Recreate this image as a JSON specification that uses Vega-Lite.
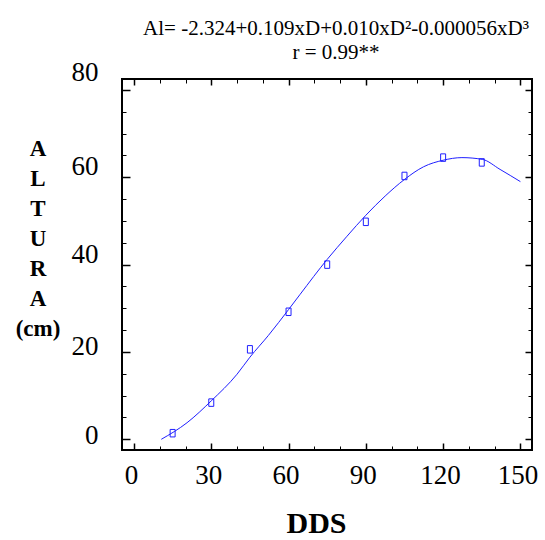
{
  "$schema": "https://vega.github.io/schema/vega-lite/v6.json",
  "width": 410,
  "height": 371,
  "autosize": {"type": "none"},
  "padding": {"left": 122, "top": 79, "right": 13, "bottom": 90},
  "background": "white",
  "title": {
    "text": ["Al= -2.324+0.109xD+0.010xD²-0.000056xD³", "r = 0.99**"],
    "font": "Liberation Serif",
    "fontSize": 21,
    "fontWeight": "normal",
    "color": "black",
    "lineHeight": 24,
    "anchor": "middle",
    "dx": 9,
    "offset": -4
  },
  "datasets": {
    "obs": [
      {"dds": 15, "altura": 1.4},
      {"dds": 30, "altura": 8.4},
      {"dds": 45, "altura": 20.6},
      {"dds": 60, "altura": 29.2},
      {"dds": 75, "altura": 40.0},
      {"dds": 90, "altura": 49.8},
      {"dds": 105, "altura": 60.3},
      {"dds": 120, "altura": 64.5},
      {"dds": 135, "altura": 63.4}
    ],
    "fit": [
      {"dds": 10.6, "altura": 0.0},
      {"dds": 20.6, "altura": 3.8},
      {"dds": 30, "altura": 8.8},
      {"dds": 40, "altura": 14.9},
      {"dds": 45, "altura": 18.8},
      {"dds": 52.2, "altura": 23.8},
      {"dds": 60, "altura": 29.7},
      {"dds": 64.5, "altura": 33.2},
      {"dds": 75, "altura": 41.2},
      {"dds": 82.7, "altura": 46.5},
      {"dds": 90, "altura": 51.3},
      {"dds": 97.5, "altura": 55.7},
      {"dds": 105, "altura": 59.5},
      {"dds": 112.4, "altura": 62.4},
      {"dds": 120, "altura": 63.9},
      {"dds": 127.3, "altura": 64.5},
      {"dds": 135.2, "altura": 64.1},
      {"dds": 142.1, "altura": 61.8},
      {"dds": 150, "altura": 59.0}
    ]
  },
  "layer": [
    {
      "data": {"name": "fit"},
      "mark": {"type": "line", "color": "#1f1fff", "strokeWidth": 1, "interpolate": "monotone"},
      "encoding": {
        "x": {
          "field": "dds", "type": "quantitative",
          "scale": {"domain": [-4.65, 154.5], "nice": false, "zero": false},
          "axis": {
            "orient": "bottom",
            "values": [0, 30, 60, 90, 120, 150],
            "ticks": false, "domain": false, "grid": false,
            "labelFont": "Liberation Serif", "labelFontSize": 27, "labelColor": "black",
            "labelPadding": 12, "labelBaseline": "top", "labelOffset": -3,
            "labelFlush": false, "labelOverlap": false,
            "title": "DDS",
            "titleFont": "Liberation Serif", "titleFontSize": 30, "titleFontWeight": "bold", "titleColor": "black",
            "titleX": 194, "titleY": 82, "titleBaseline": "alphabetic", "titleAlign": "center"
          }
        },
        "y": {
          "field": "altura", "type": "quantitative",
          "scale": {"domain": [-2.45, 82.5], "nice": false, "zero": false},
          "axis": {
            "orient": "left",
            "values": [0, 20, 40, 60, 80],
            "ticks": false, "domain": false, "grid": false,
            "labelFont": "Liberation Serif", "labelFontSize": 27, "labelColor": "black",
            "labelPadding": 24, "labelBaseline": "middle", "labelAlign": "right",
            "labelFlush": false, "labelOverlap": false,
            "labelOffset": {
              "condition": [
                {"test": "datum.value === 80", "value": -17},
                {"test": "datum.value === 60", "value": -11},
                {"test": "datum.value === 40", "value": -10},
                {"test": "datum.value === 20", "value": -5}
              ],
              "value": -4
            },
            "title": ["A", "L", "T", "U", "R", "A", "(cm)"],
            "titleFont": "Liberation Serif", "titleFontSize": 23, "titleFontWeight": "bold", "titleColor": "black",
            "titleAngle": 0, "titleAlign": "center", "titleBaseline": "alphabetic",
            "titleX": -84.5, "titleY": 76, "titleLineHeight": 30
          }
        }
      }
    },
    {
      "data": {"name": "obs"},
      "mark": {"type": "point", "shape": "M-0.667,-1H0.667V1H-0.667Z", "size": 56, "filled": false, "color": "#1f1fff", "strokeWidth": 1, "opacity": 1},
      "encoding": {
        "x": {
          "field": "dds", "type": "quantitative",
          "scale": {"domain": [-4.65, 154.5], "nice": false, "zero": false},
          "axis": {
            "orient": "bottom",
            "values": [0, 10, 20, 30, 40, 50, 60, 70, 80, 90, 100, 110, 120, 130, 140, 150],
            "labels": false, "domain": false, "grid": false, "title": null,
            "tickColor": "black",
            "tickSize": {"condition": {"test": "datum.value % 30 === 0", "value": -7}, "value": -4},
            "tickWidth": {"condition": {"test": "datum.value % 30 === 0", "value": 1.5}, "value": 1}
          }
        },
        "y": {
          "field": "altura", "type": "quantitative",
          "scale": {"domain": [-2.45, 82.5], "nice": false, "zero": false},
          "axis": {
            "orient": "left",
            "values": [0, 5, 10, 15, 20, 25, 30, 35, 40, 45, 50, 55, 60, 65, 70, 75, 80],
            "labels": false, "domain": false, "grid": false, "title": null,
            "tickColor": "black",
            "tickSize": {"condition": {"test": "datum.value % 20 === 0", "value": -8}, "value": -4},
            "tickWidth": {"condition": {"test": "datum.value % 20 === 0", "value": 1.5}, "value": 1}
          }
        }
      }
    },
    {
      "data": {"name": "obs"},
      "mark": {"type": "point", "opacity": 0},
      "encoding": {
        "x": {
          "field": "dds", "type": "quantitative",
          "scale": {"domain": [-4.65, 154.5], "nice": false, "zero": false},
          "axis": {
            "orient": "top",
            "values": [0, 10, 20, 30, 40, 50, 60, 70, 80, 90, 100, 110, 120, 130, 140, 150],
            "labels": false, "domain": false, "grid": false, "title": null,
            "tickColor": "black",
            "tickSize": {"condition": {"test": "datum.value % 30 === 0", "value": -6}, "value": -4},
            "tickWidth": {"condition": {"test": "datum.value % 30 === 0", "value": 1.5}, "value": 1}
          }
        },
        "y": {
          "field": "altura", "type": "quantitative",
          "scale": {"domain": [-2.45, 82.5], "nice": false, "zero": false},
          "axis": {
            "orient": "right",
            "values": [0, 5, 10, 15, 20, 25, 30, 35, 40, 45, 50, 55, 60, 65, 70, 75, 80],
            "labels": false, "domain": false, "grid": false, "title": null,
            "tickColor": "black",
            "tickSize": {"condition": {"test": "datum.value % 20 === 0", "value": -7}, "value": -4},
            "tickWidth": {"condition": {"test": "datum.value % 20 === 0", "value": 1.5}, "value": 1}
          }
        }
      }
    }
  ],
  "resolve": {"axis": {"x": "independent", "y": "independent"}},
  "config": {
    "view": {"stroke": "black", "strokeWidth": 2}
  }
}
